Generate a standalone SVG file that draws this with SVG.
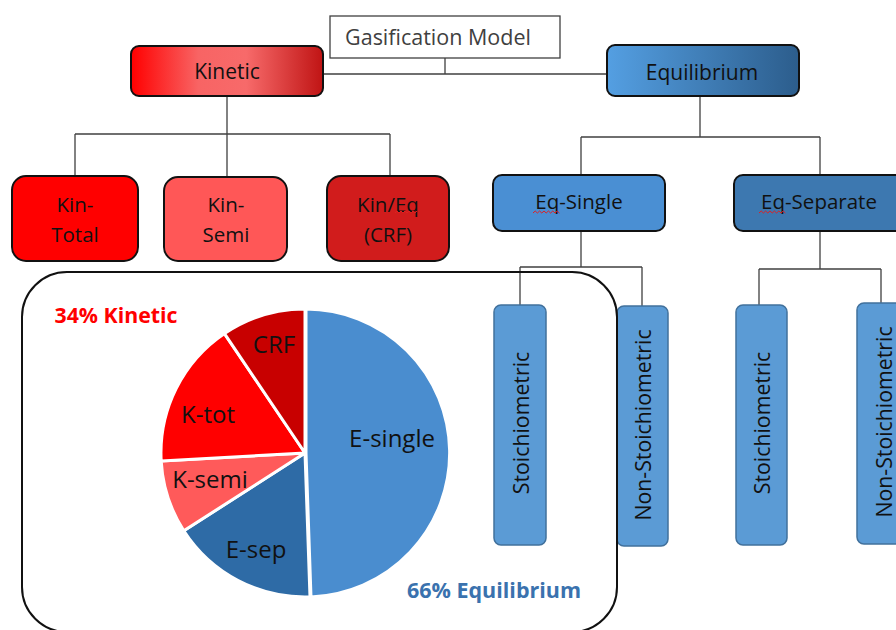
<svg xmlns="http://www.w3.org/2000/svg" width="896" height="630" viewBox="0 0 896 630">
<defs>
<linearGradient id="gKin" x1="0" y1="0" x2="1" y2="0">
<stop offset="0" stop-color="#ff0000"/>
<stop offset="0.35" stop-color="#f86464"/>
<stop offset="0.6" stop-color="#f76a6a"/>
<stop offset="1" stop-color="#c01414"/>
</linearGradient>
<linearGradient id="gEq" x1="0" y1="0" x2="1" y2="0">
<stop offset="0" stop-color="#549fe2"/>
<stop offset="1" stop-color="#2c5d8c"/>
</linearGradient>
<style>
.t{font-family:"Open Sans","Noto Sans","Liberation Sans",sans-serif;fill:#111;text-anchor:middle}
.box{stroke:#111;stroke-width:2}
.vbox{fill:#5b9bd5;stroke:#41719c;stroke-width:1.5}
.con{fill:none;stroke:#404040;stroke-width:1.3}
.sq{fill:none;stroke:#e02020;stroke-width:1}
.sl{stroke:#fff;stroke-width:3;stroke-linejoin:round}
</style>
</defs>
<rect width="896" height="630" fill="#fff"/>

<g id="connectors">
<path class="con" d="M445,58 V74 M323,74 H607"/>
<path class="con" d="M227,96 V134 M75,134 H390 M75,134 V176 M227,134 V177 M390,134 V176"/>
<path class="con" d="M700,96 V137 M581,137 H820 M581,137 V175 M820,137 V175"/>
<path class="con" d="M581,231 V267 M520,267 H642 M520,267 V305 M642,267 V306"/>
<path class="con" d="M820,231 V269 M759,269 H881 M759,269 V305 M881,269 V303"/>
</g>

<g id="gasification-model">
<rect x="330" y="16" width="230" height="42" fill="#fff" stroke="#404040" stroke-width="1.3"/>
<text class="t" x="438" y="45" font-size="21.5" style="fill:#404040">Gasification Model</text>
</g>

<g id="kinetic">
<rect class="box" x="131" y="46" width="192" height="50" rx="8" fill="url(#gKin)"/>
<text class="t" x="227" y="79" font-size="21">Kinetic</text>
</g>

<g id="equilibrium">
<rect class="box" x="607" y="45" width="192" height="51" rx="8" fill="url(#gEq)"/>
<text class="t" x="702" y="80" font-size="21">Equilibrium</text>
</g>

<g id="kin-total">
<rect class="box" x="12" y="176" width="126" height="85" rx="14" fill="#ff0000"/>
<text class="t" x="75" y="212" font-size="20.5">Kin-</text>
<text class="t" x="75" y="242" font-size="20.5">Total</text>
</g>

<g id="kin-semi">
<rect class="box" x="164" y="177" width="123" height="84" rx="14" fill="#ff5757"/>
<text class="t" x="226" y="212" font-size="20.5">Kin-</text>
<text class="t" x="226" y="242" font-size="20.5">Semi</text>
</g>

<g id="kin-eq-crf">
<rect class="box" x="327" y="176" width="122" height="85" rx="14" fill="#d11c1c"/>
<text class="t" x="388" y="212" font-size="20.5">Kin/Eq</text>
<path class="sq" d="M395,213 l2,-2 l2,2 l2,-2 l2,2 l2,-2 l2,2 l2,-2 l2,2 l2,-2 l2,2 l2,-2"/>
<text class="t" x="388" y="242" font-size="20.5">(CRF)</text>
</g>

<g id="eq-single">
<rect class="box" x="493" y="175" width="172" height="56" rx="9" fill="#4a8fd3"/>
<text class="t" x="579" y="209" font-size="20.5">Eq-Single</text>
<path class="sq" d="M533,213 l2.2,-2 l2.2,2 l2.2,-2 l2.2,2 l2.2,-2 l2.2,2 l2.2,-2 l2.2,2 l2.2,-2 l2.2,2 l2.2,-2 l2.2,2"/>
</g>

<g id="eq-separate">
<rect class="box" x="734" y="175" width="172" height="56" rx="9" fill="#3d78b0"/>
<text class="t" x="819" y="209" font-size="20.5">Eq-Separate</text>
<path class="sq" d="M759,213 l2.2,-2 l2.2,2 l2.2,-2 l2.2,2 l2.2,-2 l2.2,2 l2.2,-2 l2.2,2 l2.2,-2 l2.2,2 l2.2,-2 l2.2,2"/>
</g>

<g id="stoich-1">
<rect class="vbox" x="494" y="305" width="52" height="240" rx="7"/>
<text class="t" transform="translate(529,423) rotate(-90)" font-size="21.3">Stoichiometric</text>
</g>

<g id="non-stoich-1">
<rect class="vbox" x="617" y="306" width="51" height="240" rx="7"/>
<text class="t" transform="translate(651,425) rotate(-90)" font-size="21.3">Non-Stoichiometric</text>
</g>

<g id="stoich-2">
<rect class="vbox" x="736" y="305" width="51" height="240" rx="7"/>
<text class="t" transform="translate(770,423) rotate(-90)" font-size="21.3">Stoichiometric</text>
</g>

<g id="non-stoich-2">
<rect class="vbox" x="857" y="303" width="52" height="241" rx="7"/>
<text class="t" transform="translate(892,422) rotate(-90)" font-size="21.3">Non-Stoichiometric</text>
</g>

<g id="pie-panel">
<rect x="22" y="272" width="595" height="360" rx="45" fill="none" stroke="#111" stroke-width="2"/>
<path class="sl" fill="#4a8dcf" d="M306,453 L306,309 A144,144 0 0 1 311,596.9 Z"/>
<path class="sl" fill="#2e6ba6" d="M305,453 L310,596.9 A144,144 0 0 1 183.8,530.8 Z"/>
<path class="sl" fill="#ff5a5a" d="M305,453 L183.8,530.8 A144,144 0 0 1 161.2,461 Z"/>
<path class="sl" fill="#ff0000" d="M305,453 L161.2,461 A144,144 0 0 1 224.5,333.6 Z"/>
<path class="sl" fill="#c80000" d="M305,453 L224.5,333.6 A144,144 0 0 1 305,309 Z"/>
<text class="t" x="274" y="353" font-size="24">CRF</text>
<text class="t" x="208" y="423" font-size="24">K-tot</text>
<text class="t" x="210" y="488" font-size="24">K-semi</text>
<text class="t" x="256" y="558" font-size="24">E-sep</text>
<text class="t" x="392" y="447" font-size="24">E-single</text>
<text class="t" x="116" y="323" font-size="21.3" font-weight="bold" style="fill:#ff0000">34% Kinetic</text>
<text class="t" x="494" y="598" font-size="21.5" font-weight="bold" style="fill:#3a72ae">66% Equilibrium</text>
</g>
</svg>
